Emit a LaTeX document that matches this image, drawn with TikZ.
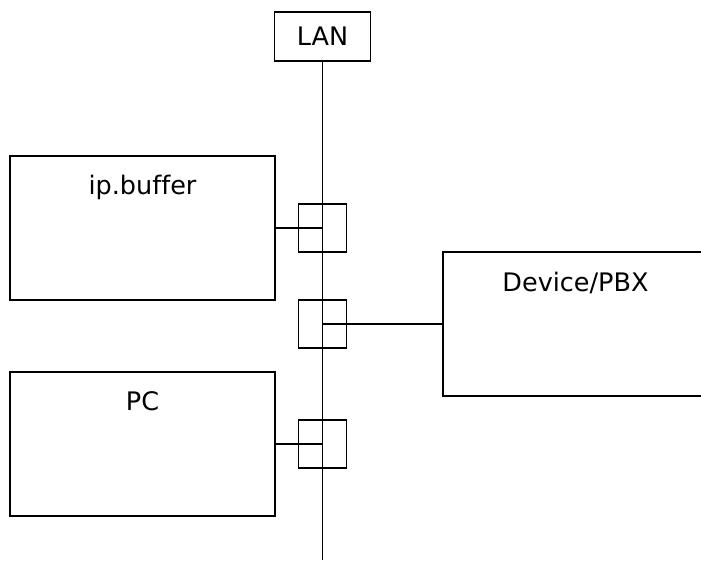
\documentclass[tikz,border=0pt]{standalone}
\usepackage{fontspec}
\setmainfont{DejaVu Sans}[Ligatures = NoCommon]
\usepackage{xcolor}
\usepackage{tikz}
\usetikzlibrary{calc, positioning}
\definecolor{ForegroundColour}{HTML}{000000}

\begin{document}
\begin{tikzpicture}[x = 1pt, y = -1pt, line width = 1.6pt, color = ForegroundColour,
    unit/.style = {draw, minimum width = 265pt, minimum height = 144pt, inner sep = 0pt},
    port/.style = {draw, minimum size = 48pt, inner sep = 0pt},
    title/.style = {font = \fontsize{25.5}{30}\selectfont, inner sep = 0pt}]

    \useasboundingbox (0, 0) rectangle (701, 561);

    % boxes on the network
    \node[unit] (ip)  at (142.5, 228) {};
    \node[unit] (pc)  at (142.5, 444) {};
    \node[unit] (pbx) at (575.5, 324) {};
    \node[title, anchor = base] (ip label)  at ($(ip.north)  + (0, 39)$) {ip.buffer};
    \node[title, anchor = base] (pc label)  at ($(pc.north)  + (0, 39)$) {PC};
    \node[title, anchor = base] (pbx label) at ($(pbx.north) + (0, 40)$) {Device/PBX};

    % the LAN bus
    \node[draw, title, minimum width = 96pt, minimum height = 49pt] (lan) at (322.5, 36.5) {LAN};
    \coordinate (bus end) at (322.5, 560);
    \draw (lan) -- (bus end);

    % ports
    \node[port] (ip port)  at (322.5, 228) {};
    \node[port] (pbx port) at (322.5, 324) {};
    \node[port] (pc port)  at (322.5, 444) {};
    \draw (ip.east)  -- (ip port.center);
    \draw (pbx.west) -- (pbx port.center);
    \draw (pc.east)  -- (pc port.center);
\end{tikzpicture}
\end{document}
